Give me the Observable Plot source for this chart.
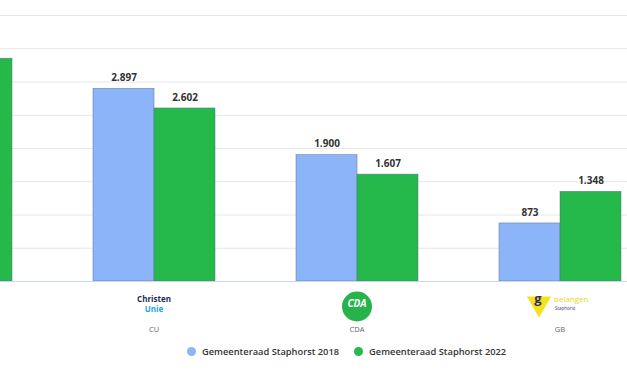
<!DOCTYPE html>
<html>
<head>
<meta charset="utf-8">
<script src="https://cdn.jsdelivr.net/npm/d3@7"></script>
<script src="https://cdn.jsdelivr.net/npm/@observablehq/plot@0.6"></script>
<style>
  html, body { margin: 0; padding: 0; background: #fff; }
  body { width: 627px; height: 376px; overflow: hidden; position: relative; font-family: "Open Sans", sans-serif; }
  #chart { position: absolute; left: -152px; top: 0; width: 814px; }
  #chart svg { max-width: none; }
  #legend { position: absolute; top: 345px; left: 187px; display: flex; gap: 15px; font-size: 9.3px; font-weight: 600; color: #333; white-space: nowrap; }
  .item { display: flex; align-items: center; gap: 6px; }
  .sw { width: 9px; height: 9px; border-radius: 50%; display: inline-block; }
</style>
</head>
<body>
<div id="chart"></div>
<div id="legend"></div>
<script>
const parties = ["SGP", "CU", "CDA", "GB"];
const labels = ["SGP", "CU", "CDA", "GB"];
const series = ["Gemeenteraad Staphorst 2018", "Gemeenteraad Staphorst 2022"];
const values2018 = [3600, 2897, 1900, 873];
const values2022 = [3350, 2602, 1607, 1348];
const yTicks = [0, 500, 1000, 1500, 2000, 2500, 3000, 3500, 4000];
const colors = ["#8cb5f9", "#25b94b"];
// the first group lies mostly outside the cropped view; its texts are not shown
const visibleParties = ["CU", "CDA", "GB"];

const data = [];
parties.forEach((p, i) => {
  data.push({party: p, series: series[0], value: values2018[i]});
  data.push({party: p, series: series[1], value: values2022[i]});
});
const labelData = data.filter(d => visibleParties.includes(d.party));

const nl = d3.formatLocale({decimal: ",", thousands: ".", grouping: [3], currency: ["€", ""]});
const fmt = nl.format(",d");

const chart = Plot.plot({
  width: 814,
  height: 340,
  marginLeft: 0,
  marginRight: 0,
  marginTop: 15,
  marginBottom: 59,
  style: {fontFamily: "'Open Sans', sans-serif", background: "transparent"},
  fx: {domain: parties, padding: 0, axis: null},
  x: {domain: series, paddingInner: 0, paddingOuter: 0.654, axis: null},
  y: {domain: [0, 4000], axis: null},
  color: {domain: series, range: colors},
  marks: [
    Plot.gridY(yTicks, {stroke: "#e6e6e6", strokeOpacity: 1}),
    Plot.barY(data, {fx: "party", x: "series", y: "value", fill: "series", stroke: "#5a6f8a", strokeWidth: 0.6, strokeOpacity: 0.8}),
    Plot.ruleY([0], {stroke: "#ccd6eb", strokeWidth: 1}),
    Plot.text(labelData, {fx: "party", x: "series", y: "value", text: d => fmt(d.value), dy: -11, fontSize: 10, fontWeight: "bold", fill: "#333"}),
    // category labels
    Plot.text(visibleParties, {fx: d => d, text: d => labels[parties.indexOf(d)], frameAnchor: "bottom", dy: 50, fontSize: 7.5, fill: "#666"}),
    // CU logo
    Plot.text(["CU"], {fx: d => d, text: ["Christen"], frameAnchor: "bottom", dy: 20, fontSize: 8, fontWeight: "bold", fill: "#1d2a5a"}),
    Plot.text(["CU"], {fx: d => d, text: ["Unie"], frameAnchor: "bottom", dy: 30, fontSize: 8, fontWeight: "bold", fill: "#1ea4e3"}),
    // CDA logo
    Plot.dot(["CDA"], {fx: d => d, frameAnchor: "bottom", dy: 25, r: 15, fill: "#26b34b", stroke: "none"}),
    Plot.text(["CDA"], {fx: d => d, text: ["CDA"], frameAnchor: "bottom", dy: 25, fontSize: 10, fontWeight: "bold", fontStyle: "italic", fill: "#fff"}),
    // GB logo
    Plot.dot(["GB"], {fx: d => d, frameAnchor: "bottom", dx: -21, dy: 22, r: 9, symbol: "triangle", rotate: 180, fill: "#f2e31a", stroke: "none"}),
    Plot.text(["GB"], {fx: d => d, text: ["g"], frameAnchor: "bottom", dx: -22, dy: 21, fontSize: 13, fontWeight: "bold", fill: "#3a2a6a"}),
    Plot.text(["GB"], {fx: d => d, text: ["belangen"], frameAnchor: "bottom", dx: -6, dy: 20, textAnchor: "start", fontSize: 8, fill: "#e8d51f"}),
    Plot.text(["GB"], {fx: d => d, text: ["Staphorst"], frameAnchor: "bottom", dx: -5, dy: 28.5, textAnchor: "start", fontSize: 4.5, fill: "#3a3a6a"})
  ]
});
document.getElementById("chart").appendChild(chart);

const legend = document.getElementById("legend");
series.forEach((s, i) => {
  const item = document.createElement("span");
  item.className = "item";
  const sw = document.createElement("span");
  sw.className = "sw";
  sw.style.background = colors[i];
  item.appendChild(sw);
  item.appendChild(document.createTextNode(s));
  legend.appendChild(item);
});
</script>
</body>
</html>
